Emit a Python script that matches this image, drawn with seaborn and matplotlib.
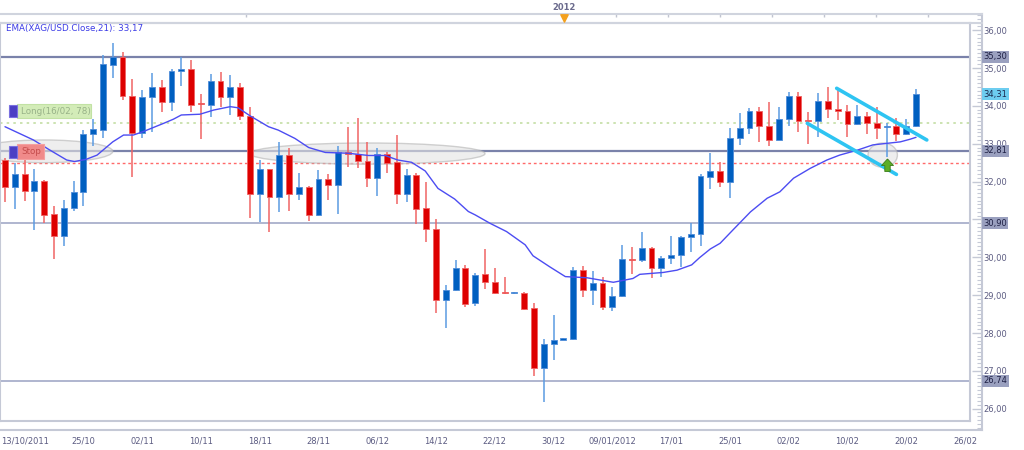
import numpy as np
import matplotlib
matplotlib.use("Agg")
import matplotlib.pyplot as plt
import matplotlib.transforms as mtransforms
from matplotlib.patches import Rectangle, Ellipse
from matplotlib.ticker import FixedLocator, FuncFormatter
import seaborn as sns

# daily candles XAG/USD (open, high, low, close)
opens = [32.57, 31.85, 32.20, 31.76, 32.02, 31.14, 30.56, 31.29, 31.72, 33.25,
         33.36, 35.08, 35.30, 34.27, 33.29, 34.24, 34.51, 34.11, 34.92, 34.97,
         34.06, 34.02, 34.66, 34.23, 34.51, 33.73, 31.67, 32.32, 31.60, 32.70,
         31.67, 31.87, 31.11, 32.06, 31.91, 32.79, 32.72, 32.55, 32.10, 32.74,
         32.51, 31.67, 32.17, 31.29, 30.76, 28.87, 29.13, 29.72, 28.78, 29.55,
         29.34, 29.08, 29.05, 29.07, 28.65, 27.07, 27.71, 27.82, 27.84, 29.66,
         29.13, 29.33, 28.69, 28.98, 29.96, 29.93, 30.24, 29.71, 29.97, 30.06,
         30.53, 30.61, 32.13, 32.28, 32.00, 33.14, 33.41, 33.87, 33.47, 33.10,
         33.65, 34.27, 33.63, 33.60, 34.13, 33.93, 33.87, 33.52, 33.73, 33.56,
         33.43, 33.46, 33.25, 33.48]
highs = [32.62, 32.48, 32.59, 32.32, 32.04, 31.36, 31.51, 32.02, 33.36, 33.65,
         35.34, 35.67, 35.43, 34.71, 34.42, 34.86, 34.68, 34.97, 35.29, 35.21,
         34.31, 34.83, 34.89, 34.82, 34.60, 33.98, 32.57, 32.34, 33.04, 32.88,
         32.22, 31.88, 32.30, 32.19, 32.95, 33.43, 33.67, 33.04, 32.88, 32.77,
         33.23, 32.32, 32.22, 32.00, 31.01, 29.28, 29.93, 29.80, 29.59, 30.21,
         29.71, 29.49, 29.08, 29.09, 28.78, 27.84, 28.48, 27.87, 29.75, 29.78,
         29.64, 29.49, 29.22, 30.32, 30.28, 30.68, 30.26, 30.04, 30.56, 30.57,
         30.90, 32.19, 32.76, 32.51, 33.41, 33.80, 33.95, 33.98, 34.09, 33.98,
         34.38, 34.38, 33.85, 34.33, 34.51, 34.44, 34.02, 34.02, 33.83, 33.98,
         33.56, 33.69, 33.65, 34.44]
lows = [31.47, 31.28, 31.50, 30.73, 30.90, 29.96, 30.29, 31.22, 31.36, 32.95,
        33.16, 34.74, 34.15, 32.12, 33.14, 33.30, 33.85, 33.86, 34.53, 33.85,
        33.13, 33.71, 33.98, 33.76, 33.63, 31.05, 30.92, 30.66, 31.19, 31.23,
        31.51, 30.97, 31.10, 31.51, 31.14, 32.39, 32.35, 31.87, 31.62, 32.22,
        31.40, 31.45, 30.88, 30.41, 28.54, 28.12, 29.10, 28.70, 28.71, 29.15,
        29.03, 29.04, 29.04, 28.62, 26.86, 26.17, 27.29, 27.81, 27.82, 28.94,
        28.74, 28.61, 28.59, 28.94, 29.55, 29.88, 29.44, 29.49, 29.82, 29.75,
        30.15, 30.30, 31.80, 31.87, 31.56, 32.97, 33.26, 33.05, 32.95, 33.09,
        33.48, 33.30, 32.99, 33.17, 33.67, 33.63, 33.17, 33.50, 33.27, 33.13,
        32.66, 33.08, 33.24, 33.45]
closes = [31.85, 32.20, 31.75, 32.02, 31.13, 30.56, 31.31, 31.73, 33.26, 33.38,
          35.10, 35.30, 34.26, 33.29, 34.24, 34.51, 34.11, 34.93, 34.97, 34.02,
          34.04, 34.66, 34.23, 34.51, 33.74, 31.67, 32.32, 31.60, 32.70, 31.67,
          31.87, 31.11, 32.06, 31.91, 32.77, 32.72, 32.54, 32.10, 32.73, 32.48,
          31.67, 32.17, 31.28, 30.75, 28.87, 29.13, 29.72, 28.77, 29.53, 29.34,
          29.07, 29.05, 29.07, 28.63, 27.07, 27.71, 27.82, 27.86, 29.66, 29.13,
          29.33, 28.69, 28.98, 29.95, 29.93, 30.24, 29.71, 29.97, 30.06, 30.53,
          30.61, 32.15, 32.28, 32.00, 33.14, 33.41, 33.87, 33.47, 33.10, 33.65,
          34.27, 33.60, 33.60, 34.13, 33.93, 33.87, 33.52, 33.73, 33.56, 33.42,
          33.46, 33.25, 33.48, 34.31]

# EMA(21) as drawn on the chart (bar position, value)
ema_pos = [0, 2.9, 4.6, 6.3, 7.1, 8.3, 9.4, 11.0, 12.1, 13.1, 14.1, 16.2, 17.2,
           18.0, 19.9, 21.3, 23.0, 23.8, 25.0, 26.9, 27.9, 29.6, 31.0, 32.7,
           35.0, 37.1, 38.8, 40.1, 41.5, 42.9, 44.2, 45.9, 47.3, 48.0, 49.5,
           51.2, 53.1, 53.9, 55.6, 57.2, 59.4, 62.1, 64.1, 64.8, 67.2, 68.6,
           70.1, 70.9, 72.0, 73.0, 74.3, 76.1, 77.8, 79.1, 80.5, 82.2, 83.9,
           85.2, 87.0, 88.6, 90.0, 91.4, 92.4, 93.0]
ema_val = [33.45, 33.10, 32.83, 32.57, 32.53, 32.59, 32.70, 33.05, 33.23, 33.23,
           33.32, 33.54, 33.65, 33.76, 33.78, 33.89, 33.98, 33.95, 33.74, 33.45,
           33.36, 33.14, 32.90, 32.77, 32.75, 32.69, 32.69, 32.57, 32.51, 32.28,
           31.82, 31.54, 31.21, 31.12, 30.90, 30.68, 30.33, 30.04, 29.75, 29.49,
           29.46, 29.34, 29.44, 29.55, 29.60, 29.66, 29.80, 29.99, 30.22, 30.37,
           30.72, 31.20, 31.56, 31.73, 32.09, 32.35, 32.57, 32.70, 32.83, 32.97,
           33.01, 33.05, 33.12, 33.17]

date_labels = ["13/10/2011", "25/10", "02/11", "10/11", "18/11", "28/11", "06/12",
               "14/12", "22/12", "30/12", "09/01/2012", "17/01", "25/01", "02/02",
               "10/02", "20/02", "26/02"]
date_pos = [2, 8, 14, 20, 26, 32, 38, 44, 50, 56, 62, 68, 74, 80, 86, 92, 98]
top_ticks = [24.6, 62.4, 67.7, 73.0, 78.3, 83.6, 88.9, 94.2]
year_pos = 57.1

price_ticks = [26, 27, 28, 29, 30, 32, 33, 34, 35, 36]   # 31,00 sits under the 30,90 tag
levels = [35.30, 32.81, 30.90, 26.74]
level_strong = [True, True, False, False]
long_price = 33.55
stop_price = 32.48
last_close = 34.31
ema_last = 33.17

# wedge drawn on the right (bar pos, price)
upper_line = ([84.9, 94.1], [34.465, 33.10])
lower_line = ([81.9, 91.0], [33.54, 32.19])
ellipses = [(4.0, 32.80, 14.0, 0.60), (37.0, 32.74, 24.0, 0.56), (89.6, 32.70, 3.0, 0.64)]
arrow_at = (90.0, 32.44)

sns.set_style("white")
plt.rcParams['font.family'] = ['DejaVu Sans']

W, H = 1024, 450
fig = plt.figure(figsize=(W / 100, H / 100), dpi=100)


def box(x0, y0, x1, y1):
    return [x0 / W, 1 - y1 / H, (x1 - x0) / W, (y1 - y0) / H]


slot, x_first = 9.796, 5.0
frame = "#c5c9d6"
txt = "#5c5c82"

ax = fig.add_axes(box(0, 23, 970, 421))
ax_r = fig.add_axes(box(970, 14, 982, 430))
ax_b = fig.add_axes(box(0, 421, 982, 430))
ax_t = fig.add_axes(box(0, 14, 982, 23.3))

xmin = -x_first / slot
ax.set_xlim(xmin, (970 - x_first) / slot)
ax.set_ylim(26 + (408.7 - 421) / 37.85, 26 + (408.7 - 23) / 37.85)
ax.set_xticks([])
ax.set_yticks([])
for s in ax.spines.values():
    s.set_color(frame)
    s.set_linewidth(1.5)

o = np.array(opens)
c = np.array(closes)
hi = np.array(highs)
lo = np.array(lows)
idx = np.arange(len(o))
up = c >= o
body_lo = np.minimum(o, c)
body_h = np.maximum(np.abs(c - o), 0.03)

# level lines
for lv, strong in zip(levels, level_strong):
    ax.axhline(lv, color="#7a82aa" if strong else "#a9b0cc", lw=1.6 if strong else 1.3, zorder=1)
ax.axhline(long_price, color="#c4dea4", lw=1.2, ls=(0, (1.5, 2.5)), zorder=1)
ax.axhline(stop_price, color="#ff6a6a", lw=1.0, ls=(0, (2, 2)), zorder=1)

for cx, cy, w, h in ellipses:
    ax.add_patch(Ellipse((cx, cy), w, h, fc="#e4e4e4", ec="#b4b4b4", alpha=0.6, lw=1, zorder=1.5))

# candles
ax.vlines(idx[up], lo[up], hi[up], color="#5b9be2", lw=1.1, zorder=2)
ax.vlines(idx[~up], lo[~up], hi[~up], color="#f06464", lw=1.1, zorder=2)
ax.bar(idx[up], body_h[up], bottom=body_lo[up], width=0.6, color="#005fc0",
       edgecolor="#4f8cd8", linewidth=0.6, zorder=3)
ax.bar(idx[~up], body_h[~up], bottom=body_lo[~up], width=0.6, color="#dd0000",
       edgecolor="#f06060", linewidth=0.6, zorder=3)

sns.lineplot(x=ema_pos, y=ema_val, ax=ax, color="#4c4cf2", lw=1.0, zorder=4)
for xs, ys in (upper_line, lower_line):
    sns.lineplot(x=xs, y=ys, ax=ax, color="#2ec4f2", lw=2.6, zorder=5)

arrow = [(0, 1.1), (-1, 0), (-0.45, 0), (-0.45, -1), (0.45, -1), (0.45, 0), (1, 0), (0, 1.1)]
ax.scatter([arrow_at[0]], [arrow_at[1]], marker=arrow, s=90, c="#5cae26",
           edgecolors="#3b7d18", linewidths=0.6, zorder=6)

# annotation tags in the top left
def pa(x, y):
    return (x / 970, (421 - y) / 398)


ax.add_patch(Rectangle(pa(17, 118), 74 / 970, 14 / 398, transform=ax.transAxes,
                       fc="#d3ecb8", ec="#c2e2a4", lw=0.8, zorder=7))
ax.add_patch(Rectangle(pa(9, 117), 8 / 970, 12 / 398, transform=ax.transAxes,
                       fc="#4b3fc4", ec="#7a70e0", lw=0.8, zorder=7))
ax.text(*pa(21, 111), "Long(16/02, 78)", transform=ax.transAxes, va="center",
        ha="left", fontsize=6.3, color="#98b288", zorder=8)
ax.add_patch(Rectangle(pa(17, 159), 27 / 970, 15 / 398, transform=ax.transAxes,
                       fc="#f08a8a", ec="#f4a0a0", lw=0.8, zorder=7))
ax.add_patch(Rectangle(pa(9, 158), 8 / 970, 12 / 398, transform=ax.transAxes,
                       fc="#4b3fc4", ec="#7a70e0", lw=0.8, zorder=7))
ax.text(*pa(21, 152), "Stop", transform=ax.transAxes, va="center",
        ha="left", fontsize=6.3, color="#c44c4c", zorder=8)
ax.text(*pa(6, 29), "EMA(XAG/USD.Close,21): " + f"{ema_last:.2f}".replace(".", ","),
        transform=ax.transAxes, va="center", ha="left", fontsize=6.3, color="#3a3ae6")

# right price ruler
ax_r.set_ylim(26 + (408.7 - 430) / 37.85, 26 + (408.7 - 14) / 37.85)
ax_r.set_xlim(0, 1)
ax_r.patch.set_alpha(0)
for k, s in ax_r.spines.items():
    s.set_visible(k == "right")
    s.set_color(frame)
    s.set_linewidth(1.5)
ax_r.set_xticks([])
ax_r.yaxis.tick_right()
ax_r.yaxis.set_major_locator(FixedLocator(np.arange(26, 37)))
ax_r.yaxis.set_minor_locator(FixedLocator(np.arange(254, 365) / 10))
ax_r.yaxis.set_major_formatter(FuncFormatter(
    lambda v, p: f"{v:.2f}".replace(".", ",") if round(v) in price_ticks else ""))
ax_r.tick_params(axis="y", which="major", direction="in", length=7.2, width=1,
                 color=frame, labelsize=6, labelcolor=txt, pad=1)
ax_r.tick_params(axis="y", which="minor", direction="in", length=3.6, width=0.8, color=frame)

tr = mtransforms.blended_transform_factory(ax_r.transAxes, ax_r.transData)
for lv in levels:
    ax_r.text(1.1, lv, f"{lv:.2f}".replace(".", ","), transform=tr, va="center", ha="left",
              fontsize=6, color="#1e2044", zorder=10, clip_on=False,
              bbox=dict(boxstyle="square,pad=0.18", fc="#9aa0bf", ec="none"))
ax_r.text(1.1, last_close, f"{last_close:.2f}".replace(".", ","), transform=tr, va="center",
          ha="left", fontsize=6, color="#1c2c50", zorder=10, clip_on=False,
          bbox=dict(boxstyle="square,pad=0.18", fc="#6dcdf0", ec="none"))

# bottom date ruler
ax_b.set_xlim(xmin, (982 - x_first) / slot)
ax_b.set_ylim(0, 1)
ax_b.patch.set_alpha(0)
for k, s in ax_b.spines.items():
    s.set_visible(k == "bottom")
    s.set_color(frame)
    s.set_linewidth(1.5)
ax_b.set_yticks([])
ax_b.set_xticks(date_pos)
ax_b.set_xticklabels(date_labels)
ax_b.xaxis.set_minor_locator(FixedLocator(np.arange(2, 99.1, 0.75)))
ax_b.tick_params(axis="x", which="major", direction="in", length=7.2, width=1.2,
                 color=frame, labelsize=6, labelcolor=txt, pad=5)
ax_b.tick_params(axis="x", which="minor", direction="in", length=2.9, width=0.8, color=frame)

# top time strip
ax_t.set_xlim(xmin, (982 - x_first) / slot)
ax_t.set_ylim(0, 1)
ax_t.patch.set_alpha(0)
for k, s in ax_t.spines.items():
    s.set_visible(k in ("top", "bottom"))
    s.set_color("#d0d4de")
    s.set_linewidth(1.5)
ax_t.set_yticks([])
ax_t.xaxis.tick_top()
ax_t.set_xticks(top_ticks)
ax_t.set_xticklabels([])
ax_t.tick_params(axis="x", direction="in", length=2.5, width=1, color="#c0c4d0")
ax_t.scatter([year_pos], [0.62], marker="v", s=28, color="#f4a11e", zorder=5, clip_on=False)
ax_t.text(year_pos, 1.7, "2012", ha="center", va="center", fontsize=6, fontweight="bold",
          color="#6a6a8c", clip_on=False)

fig.savefig("out.png", dpi=100)
